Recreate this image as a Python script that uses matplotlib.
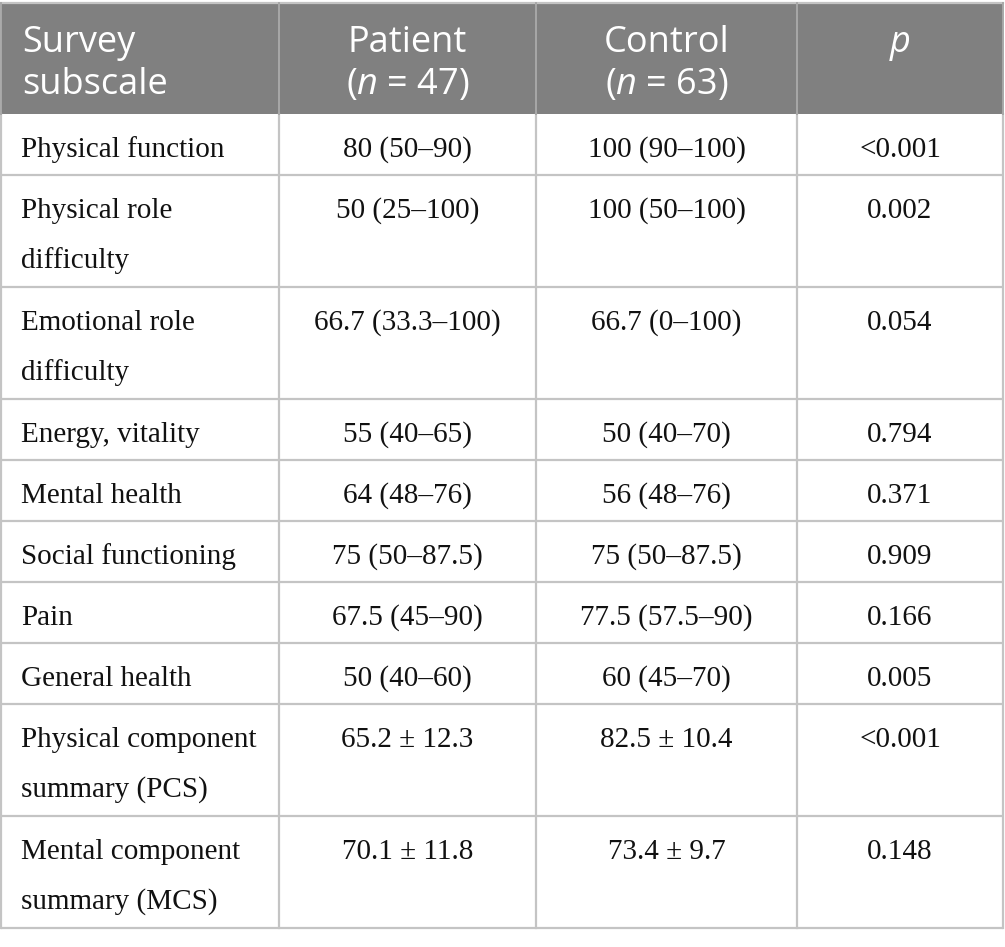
import matplotlib.pyplot as plt
from matplotlib.patches import Rectangle

plt.rcParams['mathtext.fontset'] = 'custom'
plt.rcParams['mathtext.rm'] = 'Open Sans'
plt.rcParams['mathtext.it'] = 'Open Sans:italic'

subscales = ["Physical function", "Physical role\ndifficulty", "Emotional role\ndifficulty",
             "Energy, vitality", "Mental health", "Social functioning", "Pain",
             "General health", "Physical component\nsummary (PCS)",
             "Mental component\nsummary (MCS)"]
patient = ["80 (50–90)", "50 (25–100)", "66.7 (33.3–100)", "55 (40–65)", "64 (48–76)",
           "75 (50–87.5)", "67.5 (45–90)", "50 (40–60)", "65.2 ± 12.3", "70.1 ± 11.8"]
control = ["100 (90–100)", "100 (50–100)", "66.7 (0–100)", "50 (40–70)", "56 (48–76)",
           "75 (50–87.5)", "77.5 (57.5–90)", "60 (45–70)", "82.5 ± 10.4", "73.4 ± 9.7"]
p_values = ["<0.001", "0.002", "0.054", "0.794", "0.371", "0.909", "0.166", "0.005",
            "<0.001", "0.148"]
headers = [("Survey", "subscale"), ("Patient", r"($\mathit{n}$ = 47)"),
           ("Control", r"($\mathit{n}$ = 63)"), ("p", "")]

W, H = 1005, 947
fig = plt.figure(figsize=(W / 100, H / 100), dpi=100)
ax = fig.add_axes([0, 0, 1, 1])
ax.set_xlim(0, W)
ax.set_ylim(H, 0)
ax.axis('off')

col_x = [1, 279, 536, 797, 1003]
top, head_bot = 3, 114
single_h, double_h = 61, 112
grid = '#c4c4c4'
head_font = 'Open Sans'
body_font = 'Liberation Serif'

# header
ax.add_patch(Rectangle((col_x[0], top), col_x[-1] - col_x[0], head_bot - top,
                       facecolor='#808080', edgecolor='none'))
for i, (l1, l2) in enumerate(headers):
    if i == 0:
        x, ha = 22, 'left'
    else:
        x, ha = (col_x[i] + col_x[i + 1]) / 2, 'center'
    style = 'italic' if l1 == 'p' else 'normal'
    ax.text(x, 52, l1, ha=ha, va='baseline', color='white', fontsize=26,
            family=head_font, fontstyle=style)
    if l2:
        ax.text(x, 94, l2, ha=ha, va='baseline', color='white', fontsize=26,
                family=head_font)

# body rows
y = head_bot
row_lines = [y]
for name, pa, co, pv in zip(subscales, patient, control, p_values):
    h = double_h if '\n' in name else single_h
    base = y + 43
    for j, line in enumerate(name.split('\n')):
        ax.text(21, base + j * 50, line, ha='left', va='baseline', fontsize=21,
                family=body_font, color='#111111')
    for k, val in enumerate([pa, co, pv]):
        cx = (col_x[k + 1] + col_x[k + 2]) / 2
        ax.text(cx, base, val, ha='center', va='baseline', fontsize=21,
                family=body_font, color='#111111')
    y += h
    row_lines.append(y)

bottom = row_lines[-1]
for ry in row_lines[1:]:
    ax.plot([col_x[0], col_x[-1]], [ry, ry], color=grid, lw=1.6, solid_capstyle='butt')
ax.plot([col_x[0], col_x[-1]], [top, top], color=grid, lw=1.6)
for cx in col_x:
    ax.plot([cx, cx], [head_bot, bottom], color=grid, lw=1.6)
    ax.plot([cx, cx], [top, head_bot], color='#a8a8a8', lw=1.4)

fig.savefig('out.png', dpi=100, facecolor='white')
